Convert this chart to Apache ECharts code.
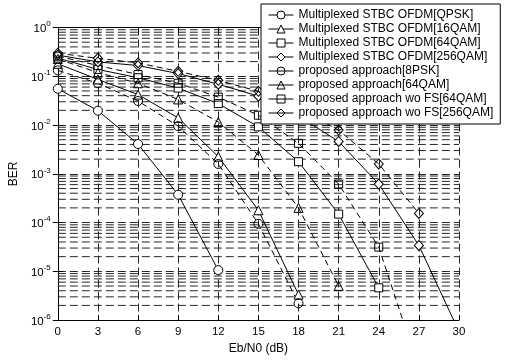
<!DOCTYPE html>
<html>
<head>
<meta charset="utf-8">
<script src="https://cdn.jsdelivr.net/npm/echarts@6/dist/echarts.min.js"></script>
<style>
  html, body { margin: 0; padding: 0; background: #fff; }
  #chart { width: 505px; height: 360px; }
</style>
</head>
<body>
<div id="chart"></div>
<script>
// Eb/N0 points (dB)
const snr = [0, 3, 6, 9, 12, 15, 18, 21, 24, 27, 30]

// BER (a point below 1e-6 is clipped at the axis)
const mplxQpsk = [0.0554, 0.0197, 0.00408, 3.72e-4, 1.06e-5]
const mplx16 = [0.180, 0.0863, 0.0421, 0.0140, 0.00225, 1.79e-4, 3.33e-6]
const mplx64 = [0.236, 0.138, 0.0933, 0.0572, 0.0275, 0.00917, 0.00177, 1.49e-4, 4.59e-6]
const mplx256 = [0.271, 0.197, 0.166, 0.1137, 0.0687, 0.0391, 0.0152, 0.00461, 6.15e-4, 3.40e-5, 5.8e-7]
const prop8psk = [0.132, 0.0719, 0.0311, 0.00947, 0.00159, 9.42e-5, 2.21e-6]
const prop64 = [0.226, 0.119, 0.0719, 0.0335, 0.01153, 0.00243, 2.0e-4, 5.03e-6]
const woFs64 = [0.259, 0.166, 0.1086, 0.0719, 0.0374, 0.0159, 0.00421, 6.15e-4, 3.14e-5, 1.0e-7]
const woFs256 = [0.297, 0.233, 0.188, 0.126, 0.0825, 0.0492, 0.0219, 0.00788, 0.00159, 1.54e-4]

const names = [
  'Multiplexed STBC OFDM[QPSK]', 'Multiplexed STBC OFDM[16QAM]',
  'Multiplexed STBC OFDM[64QAM]', 'Multiplexed STBC OFDM[256QAM]',
  'proposed approach[8PSK]', 'proposed approach[64QAM]',
  'proposed approach wo FS[64QAM]', 'proposed approach wo FS[256QAM]'
]

// log minor grid: mantissas 2..9 in each decade
const mantissas = [2, 3, 4, 5, 6, 7, 8, 9]
const decades = [-6, -5, -4, -3, -2, -1]

const font = 'Liberation Sans, Arial, sans-serif'
const gridColor = '#262626'
const gridDash = [8, 4]
const gridLine = { color: gridColor, width: 1, type: gridDash }

const minorVals = []
decades.forEach(d => mantissas.forEach(m => minorVals.push(m * Math.pow(10, d))))

const pairs = arr => arr.map((v, i) => [snr[i], v])

function mk(name, arr, symbol, size, dashed, hollow) {
  return {
    name, type: 'line', data: pairs(arr), symbol, symbolSize: size,
    showSymbol: true, clip: true, z: 3,
    lineStyle: { color: '#000', width: 1, type: dashed ? [6, 4] : 'solid' },
    itemStyle: { color: hollow ? 'rgba(255,255,255,0)' : '#fff', borderColor: '#000', borderWidth: 1 },
    emphasis: { disabled: true }
  }
}

const hollowIdx = [4, 5, 6, 7]

const chart = echarts.init(document.getElementById('chart'), null, { renderer: 'canvas' })

chart.setOption({
  backgroundColor: '#fff',
  animation: false,
  textStyle: { fontFamily: font },
  grid: { left: 56, right: 46, top: 27.5, bottom: 30.7, containLabel: false },
  legend: {
    orient: 'vertical', left: 261, top: 4, z: 10,
    padding: [4, 7, 4, 7], itemGap: 0, itemWidth: 25, itemHeight: 10,
    backgroundColor: '#fff', borderColor: '#000', borderWidth: 1, borderRadius: 0,
    lineStyle: { width: 1, type: 'solid', color: '#000' },
    itemStyle: { borderWidth: 1, borderColor: '#000' },
    textStyle: { fontSize: 12, lineHeight: 14, color: '#000', fontFamily: font },
    data: names.map((n, i) => ({
      name: n,
      lineStyle: { type: 'solid', width: 1, color: '#000' },
      itemStyle: { color: hollowIdx.includes(i) ? 'rgba(255,255,255,0)' : '#fff', borderColor: '#000', borderWidth: 1 }
    }))
  },
  xAxis: [
    { type: 'value', min: 0, max: 30, interval: 3,
      name: 'Eb/N0 (dB)', nameLocation: 'middle', nameGap: 21,
      nameTextStyle: { fontSize: 12, color: '#000', fontFamily: font },
      axisLine: { lineStyle: { color: '#000', width: 1 } },
      axisTick: { inside: true, length: 5, lineStyle: { color: '#000' } },
      axisLabel: { fontSize: 11.5, color: '#000', margin: 6, fontFamily: font },
      splitLine: { show: true, lineStyle: gridLine } },
    { type: 'value', position: 'top', min: 0, max: 30, interval: 3,
      axisLine: { lineStyle: { color: '#000', width: 1 } },
      axisTick: { inside: true, length: 5, lineStyle: { color: '#000' } },
      axisLabel: { show: false }, splitLine: { show: false } }
  ],
  yAxis: [
    { type: 'log', min: 1e-6, max: 1, logBase: 10, splitNumber: 6,
      name: 'BER', nameLocation: 'middle', nameGap: 34,
      nameTextStyle: { fontSize: 12, color: '#000', fontFamily: font },
      axisLine: { show: true, lineStyle: { color: '#000', width: 1 } },
      axisTick: { show: true, inside: true, length: 5, lineStyle: { color: '#000' } },
      axisLabel: {
        margin: 7,
        formatter: v => '{b|10}{s|' + Math.round(Math.log10(v)) + '}',
        rich: {
          b: { fontSize: 11.5, color: '#000', fontFamily: font, lineHeight: 15, verticalAlign: 'bottom' },
          s: { fontSize: 8, color: '#000', fontFamily: font, lineHeight: 15, verticalAlign: 'top' }
        }
      },
      splitLine: { show: true, lineStyle: gridLine } },
    { type: 'log', position: 'right', min: 1e-6, max: 1, logBase: 10, splitNumber: 6,
      axisLine: { show: true, lineStyle: { color: '#000', width: 1 } },
      axisTick: { show: true, inside: true, length: 5, lineStyle: { color: '#000' } },
      axisLabel: { show: false }, splitLine: { show: false } }
  ],
  series: [
    {
      // minor grid of the log axis
      type: 'custom', name: 'minor', silent: true, z: 1,
      data: minorVals.map(v => [0, v]),
      renderItem: (params, api) => {
        const v = api.value(1)
        const a = api.coord([0, v]), b = api.coord([30, v])
        return { type: 'line', shape: { x1: a[0], y1: a[1], x2: b[0], y2: b[1] },
          style: { stroke: gridColor, lineWidth: 1, lineDash: gridDash } }
      }
    },
    mk(names[0], mplxQpsk, 'circle', 9, false, false),
    mk(names[1], mplx16, 'triangle', 9, false, false),
    mk(names[2], mplx64, 'rect', 8, false, false),
    mk(names[3], mplx256, 'diamond', [9, 10], false, false),
    mk(names[4], prop8psk, 'circle', 9, true, true),
    mk(names[5], prop64, 'triangle', 9, true, true),
    mk(names[6], woFs64, 'rect', 8, true, true),
    mk(names[7], woFs256, 'diamond', [9, 10], true, true)
  ]
})
</script>
</body>
</html>
